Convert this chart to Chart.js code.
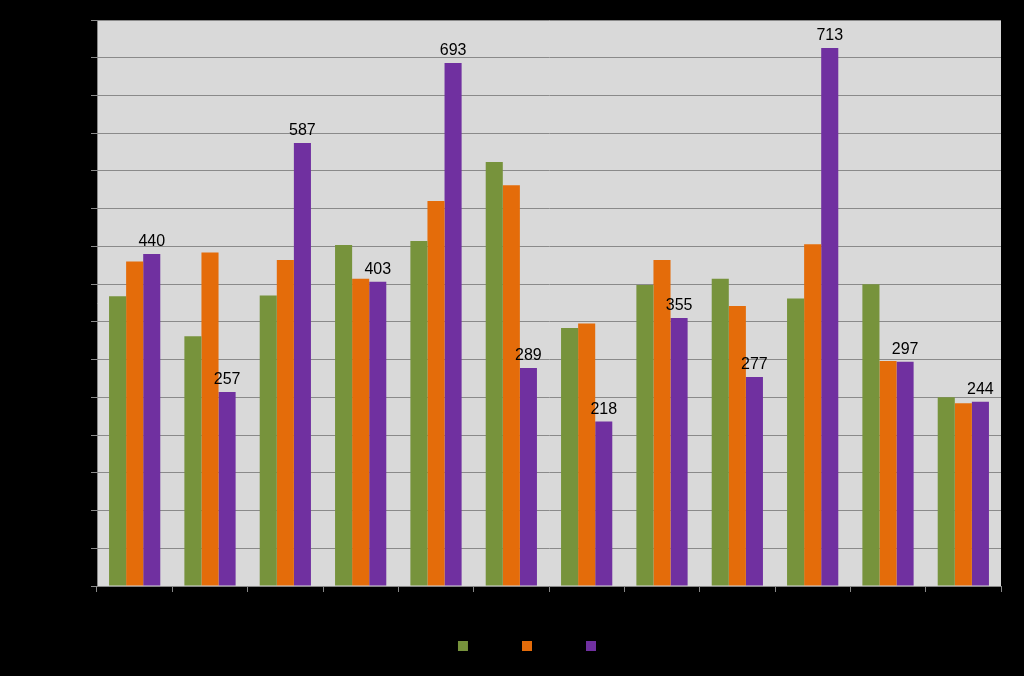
<!DOCTYPE html>
<html><head><meta charset="utf-8">
<script src="https://cdn.jsdelivr.net/npm/chart.js@4"></script>
<style>html,body{margin:0;background:#000}#w{width:1024px;height:676px}</style>
</head><body><div id="w"><canvas id="c"></canvas></div>
<script>
const categories = ["1","2","3","4","5","6","7","8","9","10","11","12"];
const seriesNames = ["Série 1","Série 2","Série 3"];
const green = [384,331,385,452,457,562,342,399,407,381,400,250];
const orange = [430,442,432,407,510,531,348,432,371,453,298,242];
const purple = [440,257,587,403,693,289,218,355,277,713,297,244];

const bgPlugin = {
  id:'bg',
  beforeDraw(ch){const a=ch.chartArea,c=ch.ctx;c.save();c.fillStyle='#000';c.fillRect(0,0,ch.width,ch.height);c.fillStyle='#d9d9d9';c.fillRect(a.left,a.top,a.right-a.left,a.bottom-a.top);c.restore();}
};
const labelPlugin = {
  id:'lbl',
  afterDatasetsDraw(ch){const c=ch.ctx;const m=ch.getDatasetMeta(2);c.save();c.font='16px "Liberation Sans", Arial, sans-serif';c.fillStyle='#000';c.textAlign='center';c.textBaseline='bottom';
    m.data.forEach((b,i)=>{c.fillText(String(purple[i]),b.x,b.y-4);});c.restore();}
};
new Chart(document.getElementById('c'),{
  type:'bar',
  data:{labels:categories,datasets:[
    {label:seriesNames[0],data:green,backgroundColor:'#77933c'},
    {label:seriesNames[1],data:orange,backgroundColor:'#e46c0a'},
    {label:seriesNames[2],data:purple,backgroundColor:'#7030a0'}]},
  options:{responsive:true,maintainAspectRatio:false,animation:false,
    layout:{padding:{left:97,right:23,top:20,bottom:14}},
    datasets:{bar:{categoryPercentage:0.68,barPercentage:1}},
    plugins:{tooltip:{enabled:false},
      legend:{position:'bottom',labels:{color:'#000',boxWidth:10,boxHeight:10,padding:10,font:{size:12}}}},
    scales:{
      x:{grid:{display:true,drawOnChartArea:false,color:'#888',tickLength:6},border:{color:'#888'},ticks:{color:'#000',font:{size:12}},
         afterFit(s){s.height=44;}},
      y:{min:0,max:750,ticks:{stepSize:50,display:false},grid:{color:'#8a8a8a',drawTicks:true,tickLength:6},border:{color:'#888'},
         afterFit(s){s.width=0;}}
    }},
  plugins:[bgPlugin,labelPlugin]
});
</script></body></html>
